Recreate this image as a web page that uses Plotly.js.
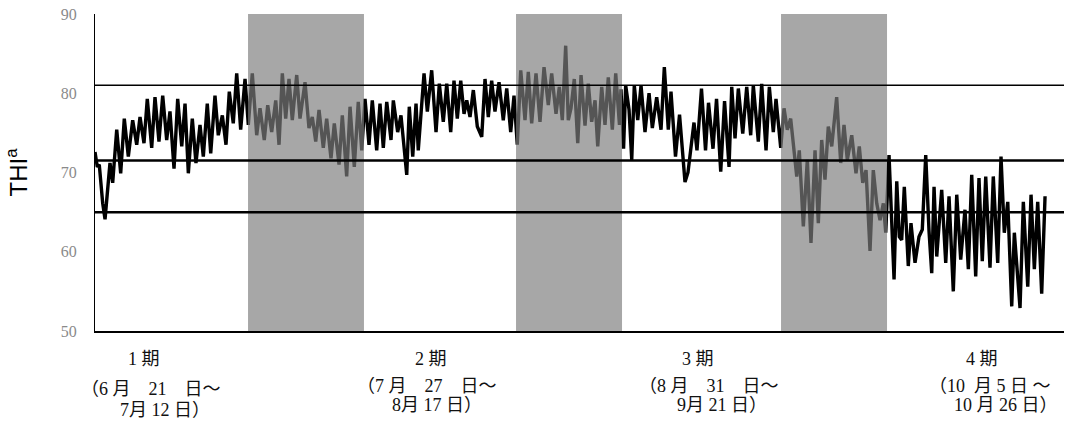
<!DOCTYPE html>
<html>
<head>
<meta charset="utf-8">
<script src="https://cdn.plot.ly/plotly-3.0.1.min.js"></script>
<style>html,body{margin:0;padding:0;background:#fff;}#chart{width:1071px;height:425px;}</style>
</head>
<body>
<div id="chart"></div>
<script>
// Time axis: days since 6/21 (diurnal peaks and troughs)
const day = [
  0.00,0.31,0.57,1.03,1.34,1.64,2.00,2.36,2.90,3.43,
  3.91,4.45,5.03,5.57,6.01,6.54,6.98,7.57,8.01,8.54,
  9.04,9.57,10.01,10.55,11.04,11.58,12.02,12.46,12.99,13.48,
  14.02,14.46,14.99,15.45,16.02,16.46,17.00,17.49,17.93,18.46,
  18.92,19.45,20.03,20.47,
  21.00,21.59,22.03,22.60,23.06,23.59,24.13,24.57,25.01,25.46,
  25.90,26.34,26.93,27.37,28.04,28.57,29.01,29.47,29.91,30.48,
  30.93,31.51,31.95,32.58,33.02,33.60,34.05,34.62,35.15,35.61,
  36.05,36.58,37.02,37.61,38.05,38.49,38.95,39.52,39.83,40.41,
  40.85,41.62,41.96,42.42,42.86,43.16,43.93,44.37,44.95,45.53,
  45.97,46.50,46.96,47.49,47.93,48.37,48.83,49.27,49.63,50.07,
  50.51,51.04,51.63,52.07,52.51,52.96,53.40,53.94,54.51,54.97,
  55.50,55.94,56.38,56.84,57.41,57.85,58.30,58.88,59.41,59.95,
  60.52,60.97,61.55,61.99,62.39,62.84,63.19,63.55,63.99,64.45,
  64.89,65.42,65.86,66.31,66.76,67.12,67.65,68.09,68.53,69.07,
  69.52,70.02,70.22,70.57,70.85,71.30,71.66,72.00,72.46,72.90,
  73.43,73.97,74.41,74.99,75.57,76.01,76.54,76.90,77.50,78.04,
  78.77,79.17,79.97,80.37,80.97,81.51,81.91,82.51,82.98,83.54,
  84.05,84.65,85.01,85.45,85.89,86.48,87.01,87.54,87.89,88.56,
  89.01,89.59,90.03,90.56,90.92,91.55,91.99,92.43,92.88,93.69,
  94.03,94.57,95.10,95.59,96.13,96.57,97.02,97.46,97.90,98.36,
  99.02,99.56,100.00,100.44,101.03,101.60,102.04,102.50,102.94,103.47,
  103.91,104.37,104.81,105.25,105.57,106.01,106.37,106.68,107.04,107.38,
  107.70,108.05,108.58,108.94,109.48,110.01,110.45,110.91,111.35,111.71,
  112.02,112.38,113.04,113.58,114.02,114.59,115.05,115.58,116.15,116.60,
  117.05,117.58,118.02,118.46,118.92,119.49,119.93,120.52,120.96,121.40,
  121.86,122.39,122.74,123.50,123.94,124.53,124.97,125.41,125.86,126.39,126.84
];
const thi = [
  72.6,70.7,71.0,66.1,64.1,67.4,71.2,68.7,75.4,69.9,
  76.8,72.0,76.6,73.5,77.0,73.7,79.3,73.1,79.5,73.9,
  79.7,74.1,77.7,70.5,79.3,73.3,78.7,69.9,76.8,71.2,
  76.0,72.0,78.7,72.4,79.7,74.7,77.2,73.5,80.2,76.2,
  82.5,75.4,81.8,76.0,
  82.5,74.7,78.1,74.1,78.5,75.1,79.1,73.5,82.5,76.8,
  81.8,76.6,82.3,76.8,81.4,75.6,77.0,73.9,77.9,73.1,
  76.8,71.8,76.2,71.0,77.2,69.5,78.3,70.7,78.9,72.8,
  79.3,73.5,79.1,72.8,78.7,73.1,78.9,74.1,79.1,75.1,
  77.2,69.7,78.3,72.0,78.7,72.8,82.5,77.7,82.9,75.1,
  81.2,76.4,81.2,75.1,81.6,76.8,81.6,77.4,79.1,77.0,
  80.4,75.8,74.5,81.8,77.0,81.6,77.7,81.4,76.6,80.6,
  75.1,79.7,73.5,82.9,76.6,82.7,76.2,82.5,76.4,83.3,
  78.5,82.5,77.4,80.8,76.6,86.0,76.6,78.1,81.8,73.7,
  82.3,75.9,81.2,76.4,79.1,73.3,80.8,76.0,82.0,75.4,
  82.5,76.0,80.5,73.0,81.0,77.9,71.6,81.0,76.6,81.0,
  75.1,80.0,75.6,79.5,75.4,83.3,75.4,80.2,72.0,77.3,
  68.8,70.0,76.3,72.8,80.6,72.8,78.8,73.0,79.3,70.1,
  79.0,70.7,80.8,74.3,80.6,74.9,80.8,74.7,81.0,73.9,
  81.2,72.8,80.8,75.1,79.3,73.1,78.1,75.4,76.8,69.5,
  72.8,63.2,71.6,61.1,72.8,63.6,74.1,69.1,75.8,73.3,
  79.5,71.2,76.0,71.6,74.7,69.9,73.3,68.7,70.3,60.1,
  70.3,66.1,64.0,66.1,62.4,72.2,62.8,56.5,68.9,61.9,
  61.5,68.2,58.2,63.6,58.6,61.9,62.8,72.2,62.6,57.3,
  68.2,59.4,67.8,58.6,67.0,55.0,67.2,59.0,65.3,57.8,
  69.7,56.9,69.3,58.8,69.5,58.0,69.5,58.6,72.0,62.4,
  66.3,53.1,62.4,52.9,66.3,55.6,67.2,57.8,66.3,54.7,67.0
];

// Shaded intervals between the periods (start, end in days)
const shadeStart = [20.43, 56.21, 91.59];
const shadeEnd   = [35.91, 70.36, 105.74];

// Reference THI levels
const thresholds = [81, 71.5, 65];

// Period labels under the axis
const periodNames = ["1 期", "2 期", "3 期", "4 期"];
const periodFrom  = ["（6 月\u300021\u3000日～", "（7 月\u300027\u3000日～", "（8 月\u300031\u3000日～", "（10\u2002月 5 日 ～"];
const periodTo    = ["7月 12 日）", "8月 17 日）", "9月 21 日）", "10 月 26 日）"];

const trace = {
  x: day, y: thi, type: 'scatter', mode: 'lines',
  line: {color: '#000000', width: 3.4}, hoverinfo: 'skip'
};

const shapes = [];
shadeStart.forEach((s, i) => {
  shapes.push({type: 'rect', xref: 'x', yref: 'y', x0: s, x1: shadeEnd[i], y0: 50, y1: 90,
    fillcolor: 'rgba(125,125,125,0.68)', line: {width: 0}, layer: 'above'});
});
const thrWidth = [1.5, 2.5, 2.5];
thresholds.forEach((t, i) => {
  shapes.push({type: 'line', xref: 'paper', yref: 'y', x0: 0, x1: 1, y0: t, y1: t,
    line: {color: '#000000', width: thrWidth[i]}, layer: 'above'});
});

// label placement (paper coords)
const nameX = [0.0506, 0.3467, 0.6223, 0.9154];
const fromX = [0.0578, 0.3426, 0.6336, 0.9236];
const toX   = [0.0722, 0.3529, 0.6471, 0.9401];
const nameY = [-0.088, -0.088, -0.088, -0.088];
const fromY = [-0.183, -0.172, -0.172, -0.172];
const toY   = [-0.250, -0.233, -0.233, -0.233];
const labFont = {family: 'Liberation Serif, Noto Sans CJK JP, serif', size: 18, color: '#111111'};
const annotations = [];
periodNames.forEach((n, i) => {
  annotations.push({xref: 'paper', yref: 'paper', x: nameX[i], y: nameY[i], text: n, showarrow: false, font: labFont, xanchor: 'center', yanchor: 'middle'});
  annotations.push({xref: 'paper', yref: 'paper', x: fromX[i], y: fromY[i], text: periodFrom[i], showarrow: false, font: labFont, xanchor: 'center', yanchor: 'middle'});
  annotations.push({xref: 'paper', yref: 'paper', x: toX[i], y: toY[i], text: periodTo[i], showarrow: false, font: labFont, xanchor: 'center', yanchor: 'middle'});
});

const layout = {
  width: 1071, height: 425,
  margin: {l: 95, r: 7, t: 14, b: 94},
  paper_bgcolor: '#ffffff', plot_bgcolor: '#ffffff',
  showlegend: false,
  xaxis: {range: [0, 129.37], showgrid: false, zeroline: false, showticklabels: false,
    ticks: '', showline: true, linecolor: '#000000', linewidth: 2, fixedrange: true},
  yaxis: {range: [50, 90], tick0: 50, dtick: 10, showgrid: false, zeroline: false,
    showline: true, linecolor: '#000000', linewidth: 1,
    ticks: 'outside', ticklen: 14, tickcolor: 'rgba(0,0,0,0)',
    tickfont: {family: 'Liberation Serif, serif', size: 16, color: '#8a8a8a'},
    title: {text: 'THI<sup>a</sup>', font: {family: 'Liberation Sans, Arial, sans-serif', size: 24, color: '#000000'}, standoff: 26},
    fixedrange: true},
  shapes: shapes,
  annotations: annotations
};

Plotly.newPlot('chart', [trace], layout, {displayModeBar: false, staticPlot: true});
</script>
</body>
</html>
